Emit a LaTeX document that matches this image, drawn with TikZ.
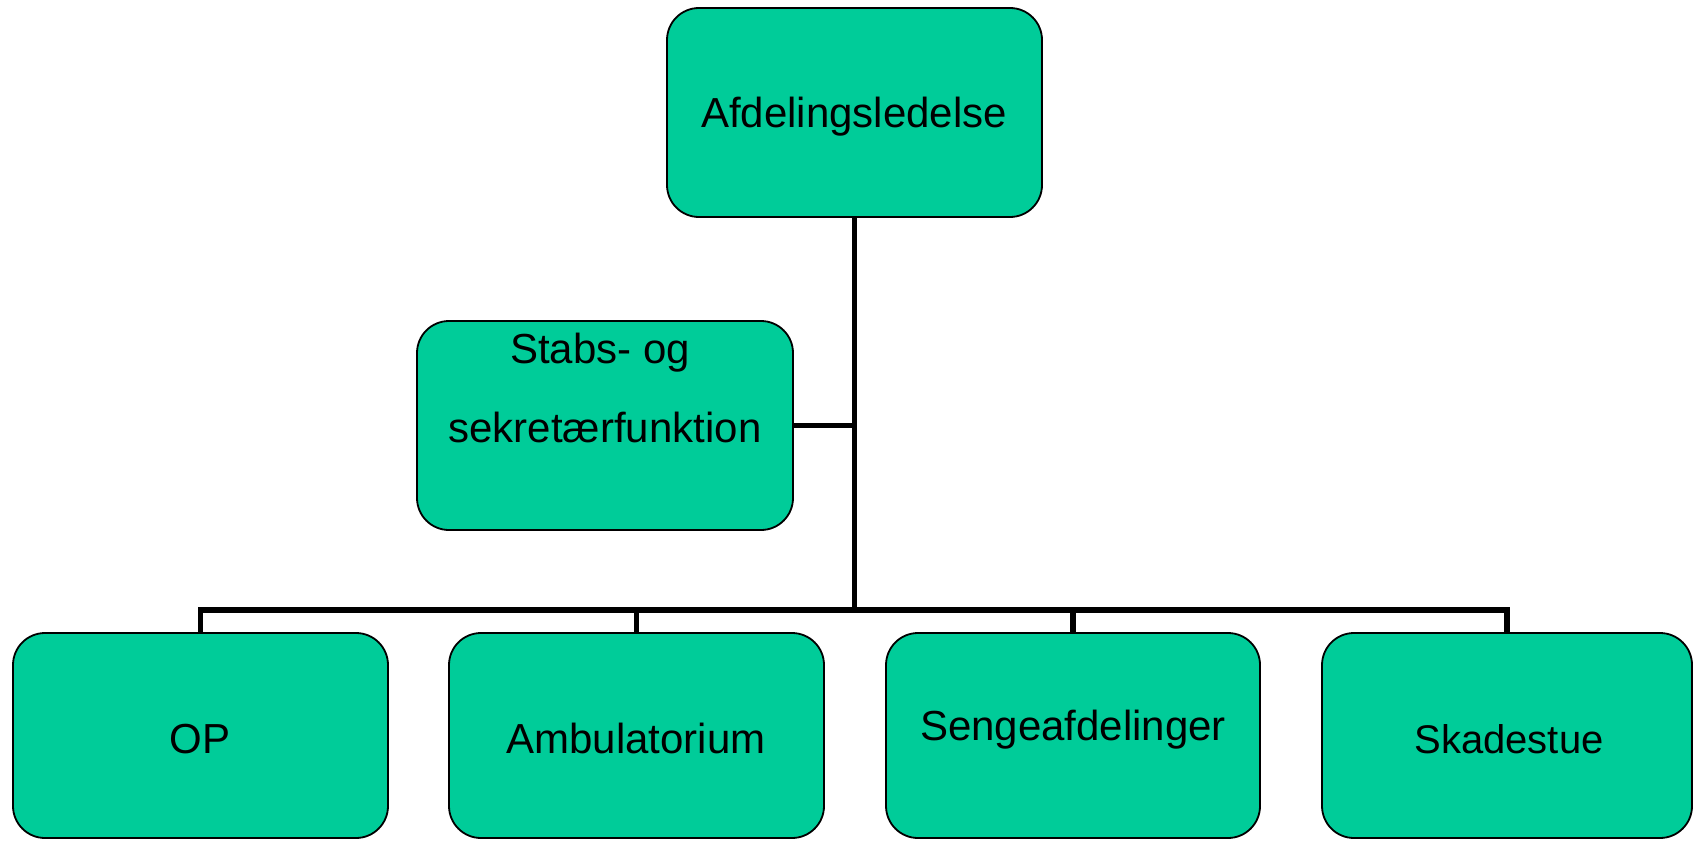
\documentclass[tikz,border=0pt]{standalone}
\usepackage{fontspec}
\setmainfont{Liberation Sans}
\definecolor{boxfill}{RGB}{0,204,153}
\begin{document}
\begin{tikzpicture}[x=1pt,y=-1pt,
  orgbox/.style={draw=black, line width=1.8pt, fill=boxfill, rounded corners=32pt, inner sep=0pt},
  boxtext/.style={anchor=base, inner sep=0pt, font=\fontsize{42}{50}\selectfont},
  link/.style={draw=black, line width=5.5pt}]
\useasboundingbox (0,0) rectangle (1693,840);
% boxes
\node[orgbox, minimum width=375pt, minimum height=209pt] (top) at (854.5,112.5) {};
\node[orgbox, minimum width=376pt, minimum height=209pt] (stabs) at (605,425.5) {};
\node[orgbox, minimum width=375pt, minimum height=205pt] (op) at (200.5,735.5) {};
\node[orgbox, minimum width=375pt, minimum height=205pt] (amb) at (636.5,735.5) {};
\node[orgbox, minimum width=374pt, minimum height=205pt] (seng) at (1073,735.5) {};
\node[orgbox, minimum width=370pt, minimum height=205pt] (skad) at (1507,735.5) {};
% texts
\node[boxtext] (ttop) at (854,128) {Afdelingsledelse};
\node[boxtext] (tstabsa) at (600,363) {Stabs- og};
\node[boxtext] (tstabsb) at (605,442) {sekretærfunktion};
\node[boxtext] (top_t) at (200,753) {OP};
\node[boxtext] (tamb) at (636,753) {Ambulatorium};
\node[boxtext] (tseng) at (1073,740) {Sengeafdelinger};
\node[boxtext, font=\fontsize{40}{48}\selectfont] (tskad) at (1509,753) {Skadestue};
% connectors
\coordinate (bus) at (854.5,610);
\draw[link] (top.south) -- (bus);
\draw[link] (stabs.east) -- (stabs.east -| top.south);
\draw[link] (op.north) |- (bus) -| (skad.north);
\draw[link] (amb.north) -- (amb.north |- bus);
\draw[link] (seng.north) -- (seng.north |- bus);
\end{tikzpicture}
\end{document}
